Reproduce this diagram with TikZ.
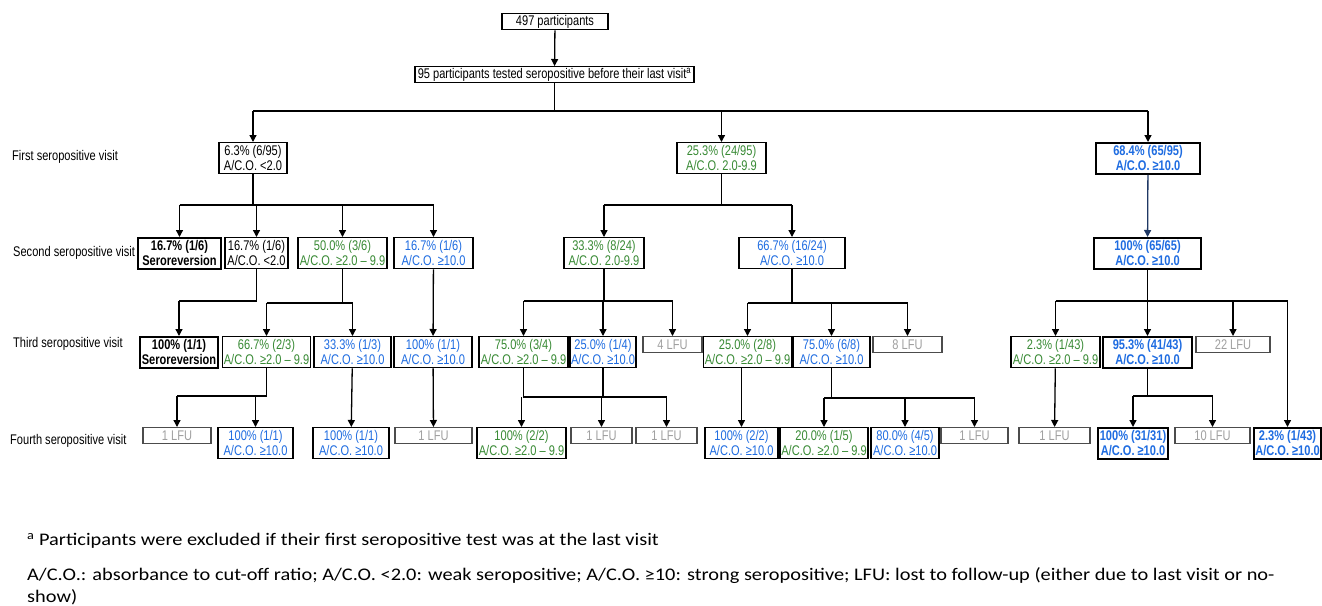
\documentclass[tikz,border=0pt]{standalone}
\usepackage{fontspec}
\usepackage{xcolor}
\usepackage{tikz}
\usetikzlibrary{arrows.meta}

\newfontfamily\chartfont[FakeStretch=0.79]{Liberation Sans}
\newfontfamily\notefont[FakeStretch=1.15]{Carlito}

\definecolor{acogreen}{RGB}{56,138,52}
\definecolor{acoblue}{RGB}{30,108,225}
\definecolor{lfugray}{RGB}{160,160,160}
\definecolor{linkblue}{RGB}{31,56,100}

\tikzset{
    box/.style={draw=black, line width=1.3pt, fill=white, anchor=north, align=center,
        inner xsep=1pt, inner ysep=0pt, minimum height=31,
        font={\chartfont\fontsize{14}{15}\selectfont}},
    grn/.style={text=acogreen},
    blu/.style={text=acoblue},
    bld/.style={line width=1.9pt, font={\chartfont\fontsize{14}{15}\selectfont\bfseries}},
    lfu/.style={box, draw=black!70, text=lfugray, minimum height=16},
    visit/.style={anchor=west, inner sep=0pt, font={\chartfont\fontsize{14}{15}\selectfont}},
    note/.style={inner sep=0pt, font={\notefont\fontsize{17.7}{22}\selectfont}},
    conn/.style={line width=1.3pt},
    arr/.style={conn, -{Triangle[width=7pt,length=7pt]}},
}

\begin{document}
\begin{tikzpicture}[x=1pt,y=-1pt]
    \useasboundingbox (0,0) rectangle (1322,605);

    % left-hand labels
    \node[visit] (v1) at (12,157) {First seropositive visit};
    \node[visit] (v2) at (13,253) {Second seropositive visit};
    \node[visit] (v3) at (13,344) {Third seropositive visit};
    \node[visit] (v4) at (10,441) {Fourth seropositive visit};

    % top
    \node[box, minimum width=106, minimum height=16] (start) at (555,13) {497 participants};
    \node[box, minimum width=279, minimum height=16] (seropos) at (554.5,66)
        {95 participants tested seropositive before their last visit\textsuperscript{a}};

    % first visit
    \node[box, minimum width=68] (f1) at (253,142) {6.3\% (6/95)\\A/C.O. <2.0};
    \node[box, grn, minimum width=89] (f2) at (721.5,142) {25.3\% (24/95)\\A/C.O. 2.0-9.9};
    \node[box, blu, bld, minimum width=104] (f3) at (1148,142) {68.4\% (65/95)\\A/C.O. ≥10.0};

    % second visit
    \node[box, bld, minimum width=83] (s1) at (179.5,237) {16.7\% (1/6)\\Seroreversion};
    \node[box, minimum width=63] (s2) at (256.5,237) {16.7\% (1/6)\\A/C.O. <2.0};
    \node[box, grn, minimum width=89] (s3) at (342.5,237) {50.0\% (3/6)\\A/C.O. ≥2.0 – 9.9};
    \node[box, blu, minimum width=79] (s4) at (433.5,237) {16.7\% (1/6)\\A/C.O. ≥10.0};
    \node[box, grn, minimum width=80] (s5) at (604,237) {33.3\% (8/24)\\A/C.O. 2.0-9.9};
    \node[box, blu, minimum width=106] (s6) at (792,237) {66.7\% (16/24)\\A/C.O. ≥10.0};
    \node[box, blu, bld, minimum width=107] (s7) at (1147.5,237) {100\% (65/65)\\A/C.O. ≥10.0};

    % third visit
    \node[box, bld, minimum width=78] (t1) at (179,336) {100\% (1/1)\\Seroreversion};
    \node[box, grn, minimum width=87] (t2) at (266.5,336) {66.7\% (2/3)\\A/C.O. ≥2.0 – 9.9};
    \node[box, blu, minimum width=77] (t3) at (352.5,336) {33.3\% (1/3)\\A/C.O. ≥10.0};
    \node[box, blu, minimum width=78] (t4) at (433,336) {100\% (1/1)\\A/C.O. ≥10.0};
    \node[box, grn, minimum width=89] (t5) at (523.5,336) {75.0\% (3/4)\\A/C.O. ≥2.0 – 9.9};
    \node[box, blu, minimum width=62] (t6) at (603,336) {25.0\% (1/4)\\A/C.O. ≥10.0};
    \node[lfu, minimum width=59] (t7) at (672.5,336) {4 LFU};
    \node[box, grn, minimum width=85] (t8) at (747.5,336) {25.0\% (2/8)\\A/C.O. ≥2.0 – 9.9};
    \node[box, blu, minimum width=77] (t9) at (831.5,336) {75.0\% (6/8)\\A/C.O. ≥10.0};
    \node[lfu, minimum width=69] (t10) at (907.5,336) {8 LFU};
    \node[box, grn, minimum width=89] (t11) at (1055.5,336) {2.3\% (1/43)\\A/C.O. ≥2.0 – 9.9};
    \node[box, blu, bld, minimum width=89] (t12) at (1147.5,336) {95.3\% (41/43)\\A/C.O. ≥10.0};
    \node[lfu, minimum width=74] (t13) at (1233,336) {22 LFU};

    % fourth visit
    \node[lfu, minimum width=68] (u1) at (177,427) {1 LFU};
    \node[box, blu, minimum width=75] (u2) at (255.5,427) {100\% (1/1)\\A/C.O. ≥10.0};
    \node[box, blu, minimum width=76] (u3) at (351,427) {100\% (1/1)\\A/C.O. ≥10.0};
    \node[lfu, minimum width=77] (u4) at (433.5,427) {1 LFU};
    \node[box, grn, minimum width=89] (u5) at (521.5,427) {100\% (2/2)\\A/C.O. ≥2.0 – 9.9};
    \node[lfu, minimum width=61] (u6) at (601.5,427) {1 LFU};
    \node[lfu, minimum width=61] (u7) at (666.5,427) {1 LFU};
    \node[box, blu, minimum width=73] (u8) at (741.5,427) {100\% (2/2)\\A/C.O. ≥10.0};
    \node[box, grn, minimum width=88] (u9) at (824,427) {20.0\% (1/5)\\A/C.O. ≥2.0 – 9.9};
    \node[box, blu, minimum width=68] (u10) at (905,427) {80.0\% (4/5)\\A/C.O. ≥10.0};
    \node[lfu, minimum width=67] (u11) at (974.5,427) {1 LFU};
    \node[lfu, minimum width=71] (u12) at (1054.5,427) {1 LFU};
    \node[box, blu, bld, minimum width=70] (u13) at (1133,427) {100\% (31/31)\\A/C.O. ≥10.0};
    \node[lfu, minimum width=75] (u14) at (1212.5,427) {10 LFU};
    \node[box, blu, bld, minimum width=65] (u15) at (1287.5,427) {2.3\% (1/43)\\A/C.O. ≥10.0};

    % junctions
    \coordinate (j0) at (seropos.south |- 0,111);
    \coordinate (jf1) at (f1.south |- 0,205);
    \coordinate (jf2) at (f2.south |- 0,205);
    \coordinate (js2) at (s2.south |- 0,301);
    \coordinate (js3) at (s3.south |- 0,303);
    \coordinate (js5) at (s5.south |- 0,301);
    \coordinate (js6) at (s6.south |- 0,303);
    \coordinate (js7) at (s7.south |- 0,301);
    \coordinate (jt2) at (t2.south |- 0,396);
    \coordinate (jt5) at (t5.south |- 0,397);
    \coordinate (jt6) at (t6.south |- 0,397);
    \coordinate (jt9) at (t9.south |- 0,398);
    \coordinate (jt12) at (t12.south |- 0,396);

    % connectors
    \draw[arr] (start) -- (seropos);
    \draw[conn] (seropos) -- (j0);
    \draw[conn] (f1.north |- j0) -- (f3.north |- j0);
    \foreach \c in {f1,f2,f3} \draw[arr] (\c.north |- j0) -- (\c.north);
    \draw[conn] (f1) -- (jf1);
    \draw[conn] (s1.north |- jf1) -- (s4.north |- jf1);
    \foreach \c in {s1,s2,s3,s4} \draw[arr] (\c.north |- jf1) -- (\c.north);
    \draw[conn] (f2) -- (jf2);
    \draw[conn] (s5.north |- jf2) -- (s6.north |- jf2);
    \foreach \c in {s5,s6} \draw[arr] (\c.north |- jf2) -- (\c.north);
    \draw[arr, draw=linkblue] (f3) -- (s7);

    \draw[conn] (s2) -- (js2) -- (t1.north |- js2);
    \draw[arr] (t1.north |- js2) -- (t1.north);
    \draw[conn] (s3) -- (js3);
    \draw[conn] (t2.north |- js3) -- (t3.north |- js3);
    \foreach \c in {t2,t3} \draw[arr] (\c.north |- js3) -- (\c.north);
    \draw[arr] (s4) -- (t4);
    \draw[conn] (s5) -- (js5);
    \draw[conn] (t5.north |- js5) -- (t7.north |- js5);
    \foreach \c in {t5,t6,t7} \draw[arr] (\c.north |- js5) -- (\c.north);
    \draw[conn] (s6) -- (js6);
    \draw[conn] (t8.north |- js6) -- (t10.north |- js6);
    \foreach \c in {t8,t9,t10} \draw[arr] (\c.north |- js6) -- (\c.north);
    \draw[conn] (s7) -- (js7);
    \draw[conn] (t11.north |- js7) -- (u15.north |- js7);
    \foreach \c in {t11,t12,t13,u15} \draw[arr] (\c.north |- js7) -- (\c.north);

    \draw[conn] (t2) -- (jt2) -- (u1.north |- jt2);
    \foreach \c in {u1,u2} \draw[arr] (\c.north |- jt2) -- (\c.north);
    \draw[arr] (t3) -- (u3);
    \draw[arr] (t4) -- (u4);
    \draw[conn] (t5) -- (jt5) -- (u6.north |- jt5);
    \foreach \c in {u5,u6} \draw[arr] (\c.north |- jt5) -- (\c.north);
    \draw[conn] (t6) -- (jt6) -- (u7.north |- jt6);
    \draw[arr] (u7.north |- jt6) -- (u7.north);
    \draw[arr] (u8.north |- t8.south) -- (u8.north);
    \draw[conn] (t9) -- (jt9);
    \draw[conn] (u9.north |- jt9) -- (u11.north |- jt9);
    \foreach \c in {u9,u10,u11} \draw[arr] (\c.north |- jt9) -- (\c.north);
    \draw[arr] (t11) -- (u12);
    \draw[conn] (t12) -- (jt12);
    \draw[conn] (u13.north |- jt12) -- (u14.north |- jt12);
    \foreach \c in {u13,u14} \draw[arr] (\c.north |- jt12) -- (\c.north);

    % notes
    \node[note, anchor=west] (note1) at (27,541)
        {\textsuperscript{a} Participants were excluded if their first seropositive test was at the last visit};
    \node[note, anchor=north west, align=left] (note2) at (27,567)
        {A/C.O.: absorbance to cut-off ratio; A/C.O. <2.0: weak seropositive; A/C.O. ≥10: strong seropositive; LFU: lost to follow-up (either due to last visit or no-\\show)};
\end{tikzpicture}
\end{document}
